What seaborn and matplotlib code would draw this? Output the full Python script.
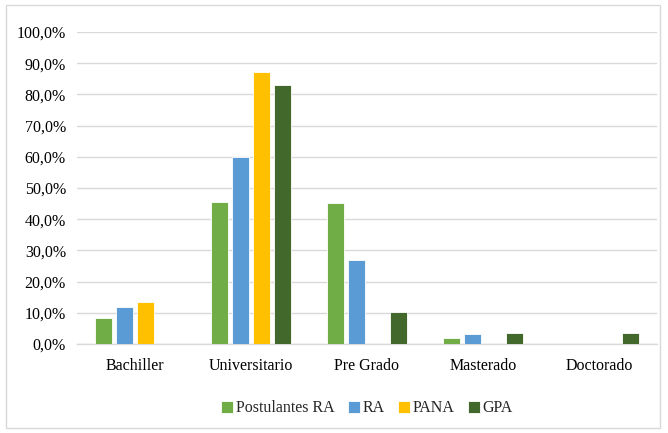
import numpy as np
import pandas as pd
import matplotlib
matplotlib.use("Agg")
import matplotlib.pyplot as plt
import seaborn as sns
from matplotlib.ticker import FuncFormatter
from matplotlib.patches import Rectangle

categories = ["Bachiller", "Universitario", "Pre Grado", "Masterado", "Doctorado"]
series_names = ["Postulantes RA", "RA", "PANA", "GPA"]
postulantes_ra = [8.3, 45.6, 45.1, 2.0, np.nan]
ra = [12.0, 59.8, 26.9, 3.1, np.nan]
pana = [13.6, 87.2, np.nan, np.nan, np.nan]
gpa = [np.nan, 83.0, 10.4, 3.6, 3.6]
colors = ["#70AD47", "#5B9BD5", "#FFC000", "#43682B"]

rows = []
for name, vals in zip(series_names, [postulantes_ra, ra, pana, gpa]):
    for c, v in zip(categories, vals):
        rows.append({"cat": c, "serie": name, "val": v})
df = pd.DataFrame(rows)

sns.set_theme(style="white")
plt.rcParams["font.family"] = ["Liberation Serif", "DejaVu Serif"]

fig = plt.figure(figsize=(6.68, 4.33), dpi=100)
ax = fig.add_axes([77/668, 1-344/433, 580/668, 312/433])

sns.barplot(data=df, x="cat", y="val", hue="serie", order=categories,
            hue_order=series_names, palette=colors, saturation=1, width=0.72, gap=0.2,
            edgecolor="white", linewidth=0.6, ax=ax, errorbar=None, zorder=3)

ax.set_ylim(0, 100)
ax.set_yticks(np.arange(0, 101, 10))
ax.yaxis.set_major_formatter(FuncFormatter(lambda v, p: f"{v:.1f}%".replace(".", ",")))
ax.grid(axis="y", color="#D9D9D9", linewidth=1, zorder=0)
ax.set_axisbelow(True)
for s in ["top", "right", "left"]:
    ax.spines[s].set_visible(False)
ax.spines["bottom"].set_color("#D9D9D9")
ax.spines["bottom"].set_linewidth(1)
ax.set_xlabel("")
ax.set_ylabel("")
ax.tick_params(axis="both", length=0, labelsize=11.5, colors="black", pad=8)
ax.tick_params(axis="x", pad=10)

leg = ax.legend(loc="upper center", bbox_to_anchor=(0.5, -0.135), ncol=4, frameon=False,
                fontsize=11.5, handlelength=0.75, handleheight=0.75, handletextpad=0.15,
                columnspacing=0.85)

fig.patches.append(Rectangle((6/668, 5/433), 654/668, 423/433, transform=fig.transFigure,
                             fill=False, edgecolor="#D9D9D9", linewidth=1))

fig.savefig("out.png", dpi=100)
